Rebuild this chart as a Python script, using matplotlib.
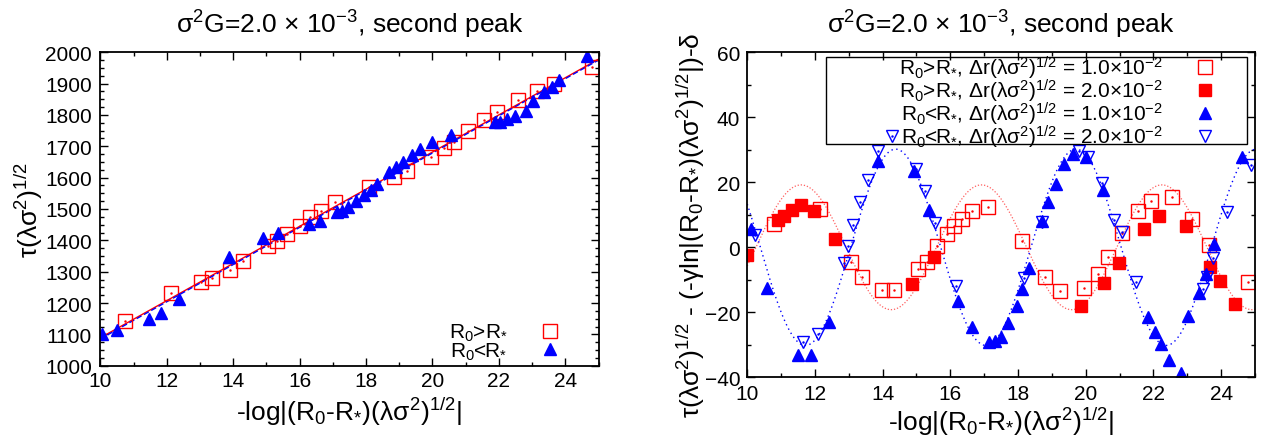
import numpy as np
import matplotlib
matplotlib.use("Agg")
import matplotlib.pyplot as plt
from matplotlib.ticker import MultipleLocator
from matplotlib.patches import Rectangle

plt.rcParams['font.family'] = ['Liberation Sans', 'DejaVu Sans']
plt.rcParams['mathtext.fontset'] = 'custom'
plt.rcParams['mathtext.rm'] = 'Liberation Sans'
plt.rcParams['mathtext.default'] = 'regular'

# ---- left panel: tau vs -log|R0-R*| ----
sq_x = [10.74, 12.13, 13.03, 13.36, 13.91, 14.31, 15.04, 15.31, 15.63, 16.00,
        16.32, 16.64, 17.07, 18.09, 18.83, 19.23, 19.96, 20.35, 20.65, 21.08,
        21.56, 21.94, 22.56, 23.14, 23.67, 24.80]
sq_y = [1144, 1231, 1266, 1280, 1306, 1333, 1383, 1397, 1420, 1447,
        1474, 1495, 1521, 1571, 1601, 1622, 1665, 1695, 1713, 1750,
        1785, 1810, 1849, 1875, 1899, 1954]

tri_x = [10.04, 10.51, 11.47, 11.82, 12.38, 13.86, 14.89, 15.36, 16.27, 16.62,
         17.14, 17.27, 17.47, 17.69, 17.95, 18.14, 18.34, 18.70, 18.91, 19.11,
         19.38, 19.63, 20.00, 20.55, 21.89, 22.04, 22.24, 22.49, 22.82, 23.04,
         23.36, 23.60, 23.82, 24.65]
tri_y = [1101, 1114, 1149, 1168, 1213, 1348, 1407, 1423, 1451, 1462,
         1489, 1495, 1507, 1525, 1546, 1561, 1580, 1617, 1635, 1651,
         1673, 1691, 1713, 1736, 1777, 1779, 1787, 1798, 1814, 1846,
         1872, 1888, 1912, 1989]

# ---- right panel: residuals ----
ro_x = [10.78, 12.15, 13.06, 13.38, 13.97, 14.34, 15.05, 15.30, 15.62, 15.91,
        16.11, 16.35, 16.65, 17.10, 18.11, 18.80, 19.24, 19.95, 20.37, 20.65,
        21.06, 21.55, 21.92, 22.55, 23.14, 23.64, 24.79]
ro_y = [7.2, 11.8, -4.4, -9.0, -13.1, -13.1, -6.7, -4.6, 0.5, 4.0,
        6.4, 8.7, 11.1, 12.5, 1.8, -9.0, -13.4, -12.6, -8.2, -3.1,
        4.5, 11.3, 14.2, 15.4, 8.7, 0.7, -10.7]

rf_x = [10.00, 10.92, 11.09, 11.31, 11.59, 11.97, 12.60, 14.86, 15.52, 19.85,
        20.54, 20.98, 21.73, 22.17, 22.95, 23.68, 23.98, 24.42]
rf_y = [-2.4, 8.4, 9.6, 11.4, 13.0, 11.2, 2.5, -11.3, -3.0, -18.2,
        -11.0, -4.9, 5.6, 9.7, 6.5, -6.2, -10.5, -17.4]

bf_x = [10.11, 10.57, 11.51, 11.87, 12.42, 13.86, 14.93, 15.38, 16.22, 16.63,
        17.15, 17.32, 17.49, 17.70, 17.98, 18.13, 18.33, 18.70, 18.88, 19.11,
        19.37, 19.63, 20.00, 20.52, 21.85, 22.05, 22.22, 22.46, 22.81, 23.03,
        23.34, 23.55, 23.80, 24.63]
bf_y = [5.6, -12.6, -33.1, -33.1, -22.9, 26.4, 23.6, 11.5, -16.4, -24.4,
        -29.2, -28.9, -27.5, -23.3, -18.2, -12.8, -6.5, 8.0, 13.8, 19.5,
        25.6, 28.7, 27.9, 17.7, -21.5, -26.2, -29.8, -34.7, -38.7, -21.1,
        -14.2, -8.3, 1.1, 27.7]

bo_x = [10.24, 11.65, 12.10, 12.85, 12.98, 13.13, 13.32, 13.56, 13.85, 14.27,
        15.00, 15.24, 15.55, 16.17, 18.19, 18.70, 19.81, 20.08, 20.47, 20.84,
        21.06, 21.49, 23.47, 23.59, 23.75, 24.17, 24.88]
bo_y = [3.7, -29.2, -26.7, -4.7, 0.5, 6.9, 13.8, 20.8, 29.5, 34.3,
        24.2, 17.3, 7.4, -11.9, -9.5, 7.7, 29.7, 27.7, 19.8, 8.5,
        4.7, -10.7, -12.9, -9.2, -3.4, 10.9, 25.3]

# fitted oscillation parameters
red_amp, red_period, red_peak = 19.2, 5.33, 11.59
blue_amp, blue_period, blue_trough = 30.2, 5.33, 11.72

title = r"σ$^2$G=2.0 × 10$^{-3}$, second peak"
xlab = r"-log|(R$_0$-R$_{*}$)(λσ$^2$)$^{1/2}$|"
FT = 19   # titles and axis labels
FS = 15   # ticks and legends

fig = plt.figure(figsize=(12.73, 4.39), dpi=100)
ax1 = fig.add_axes([0.0788, 0.1647, 0.3914, 0.7139])
ax2 = fig.add_axes([0.587, 0.1383, 0.3988, 0.7403])

# left
xs = np.array([10.0, 25.0])
pr = np.polyfit(sq_x, sq_y, 1)
pb = np.polyfit(tri_x, tri_y, 1)
ax1.plot(xs, np.polyval(pr, xs), color='red', lw=1)
ax1.plot(xs, np.polyval(pb, xs), color='blue', lw=1, ls=(0, (4, 2)))
h1, = ax1.plot(sq_x, sq_y, 's', mfc='none', mec='red', ms=9.5, mew=1)
ax1.plot(sq_x, sq_y, '.', color='red', ms=1.5)
h2, = ax1.plot(tri_x, tri_y, '^', color='blue', ms=8)
ax1.legend([h1, h2], [r"R$_0$>R$_{*}$", r"R$_0$<R$_{*}$"], loc='lower right',
           bbox_to_anchor=(0.934, 0.012), frameon=False, markerfirst=False,
           fontsize=FS, handlelength=1.5, handletextpad=1.3, labelspacing=-0.12,
           borderpad=0, borderaxespad=0)
ax1.set_xlim(10, 25)
ax1.set_ylim(1000, 2000)
ax1.xaxis.set_major_locator(MultipleLocator(2))
ax1.xaxis.set_minor_locator(MultipleLocator(1))
ax1.yaxis.set_major_locator(MultipleLocator(100))
ax1.yaxis.set_minor_locator(MultipleLocator(25))
ax1.set_title(title, fontsize=FT, pad=14)
ax1.set_xlabel(xlab, fontsize=FT, labelpad=3)
ax1.set_ylabel(r"τ(λσ$^2$)$^{1/2}$", fontsize=FT)
ax1.yaxis.set_label_coords(-0.111, 0.5)

# right
xc = np.linspace(10, 25, 500)
red_fit = red_amp * np.cos(2 * np.pi * (xc - red_peak) / red_period)
blue_fit = -blue_amp * np.cos(2 * np.pi * (xc - blue_trough) / blue_period)
ax2.plot(xc, red_fit, color='#ff6060', lw=0.9, ls=(0, (1, 1.5)))
ax2.plot(xc, blue_fit, color='blue', lw=1.0, ls=(0, (1, 2.5)))
g1, = ax2.plot(ro_x, ro_y, 's', mfc='none', mec='red', ms=9.5, mew=1)
ax2.plot(ro_x, ro_y, '.', color='red', ms=1.5)
g2, = ax2.plot(rf_x, rf_y, 's', color='red', ms=8.5)
g3, = ax2.plot(bf_x, bf_y, '^', color='blue', ms=8)
g4, = ax2.plot(bo_x, bo_y, 'v', mfc='none', mec='blue', ms=8.5, mew=1)
ax2.plot(bo_x, bo_y, '.', color='blue', ms=1.5)
labs = [r"R$_0$>R$_{*}$, Δr(λσ$^2$)$^{1/2}$ = 1.0×10$^{-2}$",
        r"R$_0$>R$_{*}$, Δr(λσ$^2$)$^{1/2}$ = 2.0×10$^{-2}$",
        r"R$_0$<R$_{*}$, Δr(λσ$^2$)$^{1/2}$ = 1.0×10$^{-2}$",
        r"R$_0$<R$_{*}$, Δr(λσ$^2$)$^{1/2}$ = 2.0×10$^{-2}$"]
ax2.legend([g1, g2, g3, g4], labs, loc='upper right',
           bbox_to_anchor=(0.932, 0.995), borderaxespad=0, borderpad=0,
           markerfirst=False, fontsize=FS, frameon=False,
           handlelength=1.5, handletextpad=1.27, labelspacing=-0.2)
# gnuplot-style key box (wider than the entries, transparent)
ax2.add_patch(Rectangle((0.155, 0.718), 0.829, 0.267, transform=ax2.transAxes,
                        fill=False, ec='black', lw=1.0, zorder=5))
ax2.set_xlim(10, 25)
ax2.set_ylim(-40, 60)
ax2.xaxis.set_major_locator(MultipleLocator(2))
ax2.xaxis.set_minor_locator(MultipleLocator(1))
ax2.yaxis.set_major_locator(MultipleLocator(20))
ax2.yaxis.set_minor_locator(MultipleLocator(10))
ax2.set_title(title, fontsize=FT, pad=14)
ax2.set_xlabel(xlab, fontsize=FT, labelpad=1)
ax2.set_ylabel(r"τ(λσ$^2$)$^{1/2}$ - (-γln|(R$_0$-R$_{*}$)(λσ$^2$)$^{1/2}$|)-δ", fontsize=FT)
ax2.yaxis.set_label_coords(-0.08, 0.47)

for ax in (ax1, ax2):
    ax.tick_params(which='both', direction='in', top=True, right=True,
                   labelsize=FS)
    ax.tick_params(which='major', length=6, width=1)
    ax.tick_params(which='minor', length=3, width=1)
    for s in ax.spines.values():
        s.set_linewidth(1.3)
ax1.tick_params(axis='y', pad=6)
ax1.tick_params(axis='x', pad=4)
ax2.tick_params(axis='y', pad=5)
ax2.tick_params(axis='x', pad=5)

fig.savefig("out.png", dpi=100)
